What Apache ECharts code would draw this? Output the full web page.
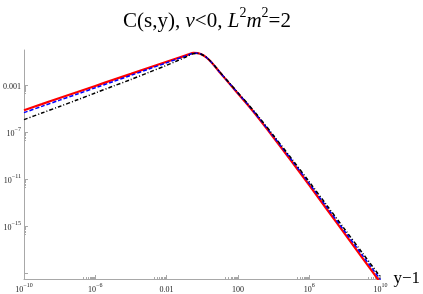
<!DOCTYPE html>
<html><head><meta charset="utf-8">
<script src="https://cdn.jsdelivr.net/npm/echarts@6/dist/echarts.min.js"></script>
<style>html,body{margin:0;padding:0;background:#fff}#c{width:423px;height:294px}</style>
</head><body><div id="c"></div>
<script>
// log10 of y-1 (x positions)
const xLog10 = [-10,-9,-8,-7,-6,-5,-4,-3,-2,-1.5,-1,-0.75,-0.5,-0.25,0,0.25,0.5,0.75,1,1.5,2,2.5,3,4,5,6,7,8,9,10];
// log10 of C(s,y) for each curve
const redLog10 = [-5.13,-4.61,-4.09,-3.58,-3.06,-2.54,-2.03,-1.51,-1.00,-0.75,-0.50,-0.37,-0.25,-0.27,-0.40,-0.66,-1.03,-1.47,-1.93,-2.82,-3.70,-4.58,-5.50,-7.45,-9.45,-11.50,-13.58,-15.66,-17.74,-19.82];
const blueLog10 = [-5.33,-4.80,-4.27,-3.75,-3.22,-2.69,-2.16,-1.62,-1.09,-0.82,-0.55,-0.41,-0.28,-0.28,-0.40,-0.65,-1.02,-1.46,-1.92,-2.80,-3.67,-4.54,-5.45,-7.37,-9.34,-11.36,-13.41,-15.46,-17.51,-19.56];
const blackLog10 = [-5.93,-5.37,-4.81,-4.24,-3.66,-3.08,-2.51,-1.91,-1.30,-0.98,-0.65,-0.47,-0.31,-0.29,-0.40,-0.65,-1.00,-1.44,-1.89,-2.77,-3.63,-4.49,-5.38,-7.28,-9.23,-11.22,-13.25,-15.28,-17.31,-19.34];
// tick labels
const xTickExp = [-10,-6,-2,2,6,10];
const yTickExp = [-15,-11,-7,-3];
const yExtraTickExp = [-19];

const pts = arr => xLog10.map((lx,i)=>[Math.pow(10,lx), Math.pow(10,arr[i])]);
const minorOf = exps => { const o=[]; exps.forEach(e=>{ for(let k=2;k<=9;k++) o.push(k*Math.pow(10,e-1)); }); return o; };

const serif = 'Liberation Serif';
function fmt(v){
  const e = Math.round(Math.log10(v));
  if (e===-3) return '{b|0.001}';
  if (e===-2) return '{b|0.01}';
  if (e===2) return '{b|100}';
  return '{b|10}{s|' + (e<0?'\u2212'+(-e):e) + '}';
}
const rich = {
  b:{fontFamily:serif,fontSize:8,color:'#222',lineHeight:12,verticalAlign:'bottom'},
  s:{fontFamily:serif,fontSize:6,color:'#222',lineHeight:12,verticalAlign:'top'}
};
const axisCol = '#a8a8a8';
const chart = echarts.init(document.getElementById('c'), null, {renderer:'canvas'});
chart.setOption({
  animation:false,
  backgroundColor:'#fff',
  title:{
    text:'{n|C(s,y), }{i|\u03bd}{n|<0, }{i|L}{p|2}{i|m}{p|2}{n|=2}',
    left:202, top:1, textAlign:'center',
    textStyle:{fontFamily:serif,fontSize:21,fontWeight:'normal',color:'#000',
      rich:{
        n:{fontFamily:serif,fontSize:21,color:'#000',lineHeight:26,verticalAlign:'bottom'},
        i:{fontFamily:serif,fontSize:21,fontStyle:'italic',color:'#000',lineHeight:26,verticalAlign:'bottom'},
        p:{fontFamily:serif,fontSize:14,color:'#000',lineHeight:26,verticalAlign:'top'}
      }}
  },
  grid:{left:22,right:41,top:50,bottom:12,containLabel:false},
  xAxis:[{
    type:'log', min:1e-10, max:1e10,
    name:'y\u22121', nameLocation:'end', nameGap:12,
    nameTextStyle:{fontFamily:serif,fontSize:17,color:'#000',verticalAlign:'middle'},
    axisLine:{show:true,lineStyle:{color:axisCol,width:1}},
    axisTick:{show:true,inside:true,length:4,lineStyle:{color:axisCol},customValues:xTickExp.map(e=>Math.pow(10,e))},
    axisLabel:{show:true,margin:3,formatter:fmt,rich:rich,customValues:xTickExp.map(e=>Math.pow(10,e)),showMinLabel:true,showMaxLabel:true},
    splitLine:{show:false}
  },{
    type:'log', min:1e-10, max:1e10, position:'bottom',
    axisLine:{show:false},
    axisTick:{show:true,inside:true,length:2,lineStyle:{color:axisCol},customValues:minorOf(xTickExp.slice(1))},
    axisLabel:{show:false}, splitLine:{show:false}
  }],
  yAxis:[{
    type:'log', min:Math.pow(10,-19.5), max:1,
    axisLine:{show:true,lineStyle:{color:axisCol,width:1}},
    axisTick:{show:true,inside:true,length:4,lineStyle:{color:axisCol},customValues:yTickExp.concat(yExtraTickExp).map(e=>Math.pow(10,e))},
    axisLabel:{show:true,margin:3,formatter:fmt,rich:rich,customValues:yTickExp.map(e=>Math.pow(10,e))},
    splitLine:{show:false}
  },{
    type:'log', min:Math.pow(10,-19.5), max:1, position:'left',
    axisLine:{show:false},
    axisTick:{show:true,inside:true,length:2,lineStyle:{color:axisCol},customValues:minorOf(yTickExp)},
    axisLabel:{show:false}, splitLine:{show:false}
  }],
  series:[
    {type:'line',data:pts(redLog10),smooth:0.3,showSymbol:false,clip:true,lineStyle:{color:'#ff0000',width:2.2},z:2},
    {type:'line',data:pts(blueLog10),smooth:0.3,showSymbol:false,clip:true,lineStyle:{color:'#0000ff',width:1.5,type:[4,2]},z:3},
    {type:'line',data:pts(blackLog10),smooth:0.3,showSymbol:false,clip:true,lineStyle:{color:'#000',width:1.5,type:[4,2,1,2]},z:4}
  ]
});
</script></body></html>
